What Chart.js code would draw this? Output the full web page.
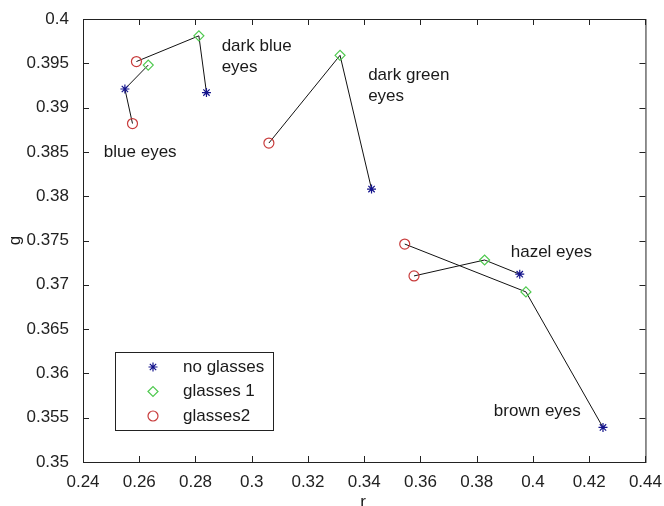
<!DOCTYPE html>
<html>
<head>
<meta charset="utf-8">
<script src="https://cdn.jsdelivr.net/npm/chart.js@4.4.0/dist/chart.umd.min.js"></script>
<style>
  body { margin: 0; background: #fff; }
  #wrap { width: 664px; height: 506px; }
</style>
</head>
<body>
<div id="wrap"><canvas id="chart" width="664" height="506"></canvas></div>
<script>
// eye colour groups, in order
const groups = ['blue eyes', 'dark blue eyes', 'dark green eyes', 'hazel eyes', 'brown eyes'];

// r / g chromaticity per group
const noGlassesR = [0.2549, 0.2839, 0.3426, 0.3953, 0.4249];
const noGlassesG = [0.3921, 0.3917, 0.3808, 0.3712, 0.3539];
const glasses1R  = [0.2632, 0.2812, 0.3314, 0.3828, 0.3975];
const glasses1G  = [0.3948, 0.3981, 0.3959, 0.3728, 0.3692];
const glasses2R  = [0.2576, 0.2590, 0.3061, 0.3577, 0.3544];
const glasses2G  = [0.3882, 0.3952, 0.3860, 0.3710, 0.3746];

// order the three points are joined in, per group (0 = no glasses, 1 = glasses 1, 2 = glasses2)
const joinOrder = [[2, 0, 1], [2, 1, 0], [2, 1, 0], [2, 1, 0], [2, 1, 0]];

// label lines and where they sit (data coords, left edge / middle of first line)
const labelLines = [['blue eyes'], ['dark blue', 'eyes'], ['dark green', 'eyes'], ['hazel eyes'], ['brown eyes']];
const labelR = [0.2474, 0.2893, 0.3414, 0.3921, 0.3861];
const labelG = [0.3849, 0.39695, 0.39368, 0.3737, 0.35576];

const xTicks = [0.24, 0.26, 0.28, 0.30, 0.32, 0.34, 0.36, 0.38, 0.40, 0.42, 0.44];
const yMin = 0.35, yMax = 0.4, yStep = 0.005;

const series = [
  { label: 'no glasses', r: noGlassesR, g: noGlassesG, style: 'star', color: '#14148c', radius: 4.5 },
  { label: 'glasses 1', r: glasses1R, g: glasses1G, style: 'rectRot', color: '#4fc94f', radius: 5 },
  { label: 'glasses2', r: glasses2R, g: glasses2G, style: 'circle', color: '#c83c3c', radius: 5 }
];

const datasets = [];
groups.forEach((name, i) => {
  datasets.push({
    label: name,
    data: joinOrder[i].map(k => ({ x: series[k].r[i], y: series[k].g[i] })),
    showLine: true,
    borderColor: '#111',
    borderWidth: 1,
    pointRadius: 0,
    order: 2
  });
});
series.forEach(s => {
  datasets.push({
    label: s.label,
    data: s.r.map((r, i) => ({ x: r, y: s.g[i] })),
    showLine: false,
    pointStyle: s.style,
    pointRadius: s.radius,
    pointBorderColor: s.color,
    pointBackgroundColor: 'rgba(0,0,0,0)',
    pointBorderWidth: 1.2,
    order: 1
  });
});

const FONT = '"Liberation Sans", Arial, sans-serif';
const FSIZE = 17;

const frame = {
  id: 'frame',
  afterDraw(chart) {
    const ctx = chart.ctx, a = chart.chartArea;
    const xs = chart.scales.x, ys = chart.scales.y;
    ctx.save();
    ctx.strokeStyle = '#222';
    ctx.lineWidth = 1;
    ctx.strokeRect(a.left + 0.5, a.top + 0.5, a.right - a.left, a.bottom - a.top);
    // inward ticks on all sides
    ctx.beginPath();
    xs.ticks.forEach(t => {
      const px = Math.round(xs.getPixelForValue(t.value)) + 0.5;
      ctx.moveTo(px, a.bottom); ctx.lineTo(px, a.bottom - 6);
      ctx.moveTo(px, a.top); ctx.lineTo(px, a.top + 6);
    });
    ys.ticks.forEach(t => {
      const py = Math.round(ys.getPixelForValue(t.value)) + 0.5;
      ctx.moveTo(a.left, py); ctx.lineTo(a.left + 6, py);
      ctx.moveTo(a.right, py); ctx.lineTo(a.right - 6, py);
    });
    ctx.stroke();

    // group labels
    ctx.fillStyle = '#1a1a1a';
    ctx.font = FSIZE + 'px ' + FONT;
    ctx.textBaseline = 'middle';
    ctx.textAlign = 'left';
    labelLines.forEach((lines, i) => {
      const x0 = xs.getPixelForValue(labelR[i]);
      const y0 = ys.getPixelForValue(labelG[i]);
      lines.forEach((txt, j) => ctx.fillText(txt, x0, y0 + j * 21));
    });

    // axis titles
    ctx.textAlign = 'center';
    ctx.fillText('r', 363, 502);
    ctx.save();
    ctx.translate(15, (a.top + a.bottom) / 2);
    ctx.rotate(-Math.PI / 2);
    ctx.fillText('g', 0, 0);
    ctx.restore();

    // legend box
    const lx = 115, ly = 352, lw = 158, lh = 78;
    ctx.fillStyle = '#fff';
    ctx.fillRect(lx, ly, lw, lh);
    ctx.strokeStyle = '#222';
    ctx.strokeRect(lx + 0.5, ly + 0.5, lw, lh);
    series.forEach((s, i) => {
      const cy = ly + 15 + i * 24.5;
      ctx.strokeStyle = s.color;
      ctx.fillStyle = 'rgba(0,0,0,0)';
      ctx.lineWidth = 1.2;
      Chart.helpers.drawPoint(ctx, { pointStyle: s.style, radius: s.radius, rotation: 0, borderWidth: 1.2 }, 153, cy);
      ctx.fillStyle = '#1a1a1a';
      ctx.textAlign = 'left';
      ctx.fillText(s.label, 183, cy);
    });
    ctx.restore();
  }
};

new Chart(document.getElementById('chart'), {
  type: 'scatter',
  data: { datasets },
  options: {
    responsive: false,
    animation: false,
    layout: { padding: { top: 19, right: 17, left: 0, bottom: 0 } },
    plugins: { legend: { display: false }, tooltip: { enabled: false } },
    scales: {
      x: {
        type: 'linear',
        min: 0.24, max: 0.44,
        afterBuildTicks: s => { s.ticks = xTicks.map(v => ({ value: v })); },
        afterFit: s => { s.height = 44; },
        grid: { display: false },
        border: { display: false },
        ticks: {
          color: '#222', padding: 2,
          font: { family: FONT, size: FSIZE },
          callback: v => String(Number(v.toFixed(2)))
        }
      },
      y: {
        type: 'linear',
        min: yMin, max: yMax,
        ticks: {
          stepSize: yStep, color: '#222', padding: 6,
          font: { family: FONT, size: FSIZE },
          callback: v => String(Number(v.toFixed(3)))
        },
        afterFit: s => { s.width = 83; },
        grid: { display: false },
        border: { display: false }
      }
    }
  },
  plugins: [frame]
});
</script>
</body>
</html>
